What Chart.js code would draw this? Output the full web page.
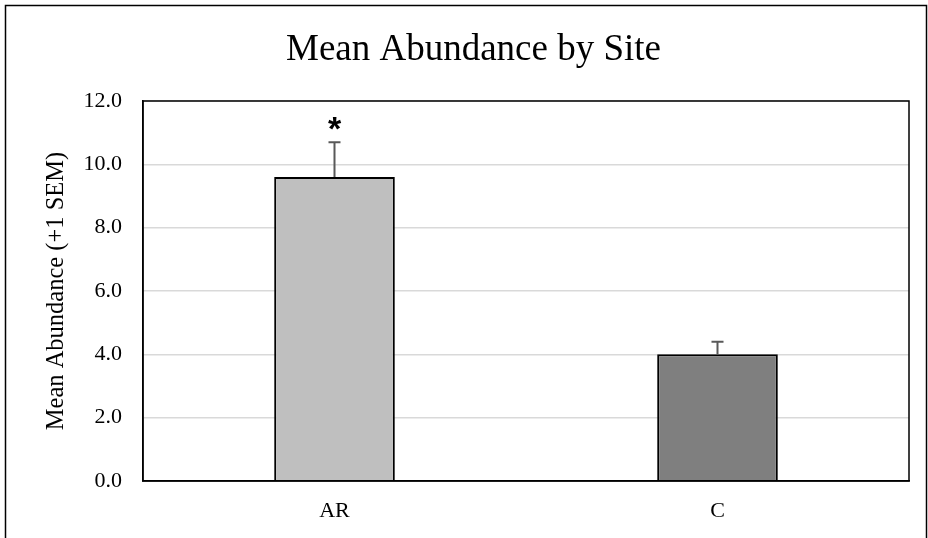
<!DOCTYPE html>
<html>
<head>
<meta charset="utf-8">
<script src="https://cdn.jsdelivr.net/npm/chart.js@4.4.0/dist/chart.umd.min.js"></script>
<style>
  html, body { margin: 0; padding: 0; background: #fff; }
  #wrap { width: 928px; height: 538px; }
</style>
</head>
<body>
<div id="wrap"><canvas id="chart" width="928" height="538"></canvas></div>
<script>
// chart data
const sites = ['AR', 'C']
const meanAbundance = [9.6, 4.0]
const sem = [1.1, 0.4]
const barColors = ['#bfbfbf', '#7f7f7f']
const significant = [true, false]
const yTicks = [0, 2, 4, 6, 8, 10, 12]

const serif = "'Liberation Serif', 'Times New Roman', serif"

// outer frame + plot box
const frame = {
  id: 'frame',
  beforeDraw(chart) {
    const ctx = chart.ctx
    ctx.save()
    ctx.strokeStyle = '#000'
    ctx.lineWidth = 1.5
    ctx.strokeRect(5.5, 5.5, 921, 560)
    ctx.restore()
  },
  afterDraw(chart) {
    const {ctx, chartArea: a} = chart
    ctx.save()
    ctx.strokeStyle = '#000'
    ctx.lineWidth = 1.5
    ctx.strokeRect(a.left, a.top, a.right - a.left, a.bottom - a.top)
    ctx.restore()
  }
}

// error bars (+1 SEM) and significance marks
const errorBars = {
  id: 'errorBars',
  afterDatasetsDraw(chart) {
    const ctx = chart.ctx
    const y = chart.scales.y
    const meta = chart.getDatasetMeta(0)
    ctx.save()
    meta.data.forEach((bar, i) => {
      const top = y.getPixelForValue(meanAbundance[i] + sem[i])
      const base = y.getPixelForValue(meanAbundance[i])
      ctx.strokeStyle = '#595959'
      ctx.lineWidth = 2
      ctx.beginPath()
      ctx.moveTo(bar.x, base)
      ctx.lineTo(bar.x, top)
      ctx.moveTo(bar.x - 6, top)
      ctx.lineTo(bar.x + 6, top)
      ctx.stroke()
      if (significant[i]) {
        ctx.fillStyle = '#000'
        ctx.font = "bold 34px 'Liberation Sans', Arial, sans-serif"
        ctx.textAlign = 'center'
        ctx.textBaseline = 'middle'
        ctx.fillText('*', bar.x, top - 12)
      }
    })
    ctx.restore()
  }
}

new Chart(document.getElementById('chart'), {
  type: 'bar',
  data: {
    labels: sites,
    datasets: [{
      data: meanAbundance,
      backgroundColor: barColors,
      borderColor: '#000',
      borderWidth: 2,
      categoryPercentage: 1,
      barPercentage: 0.315
    }]
  },
  options: {
    responsive: false,
    animation: false,
    layout: { padding: { left: 38, right: 19, top: 5, bottom: 0 } },
    plugins: {
      legend: { display: false },
      tooltip: { enabled: false },
      title: {
        display: true,
        text: 'Mean Abundance by Site',
        color: '#000',
        font: { family: serif, size: 37, weight: 'normal' },
        padding: { top: 23, bottom: 28.6 }
      }
    },
    scales: {
      x: {
        grid: { display: false, drawTicks: false },
        border: { color: '#000', width: 1.5 },
        ticks: { color: '#000', padding: 17, font: { family: serif, size: 22 } },
        afterFit(s) { s.height = 57 }
      },
      y: {
        min: 0,
        max: 12,
        afterBuildTicks(s) { s.ticks = yTicks.map(v => ({value: v})) },
        grid: { color: '#d9d9d9', lineWidth: 1.5, drawTicks: false },
        border: { color: '#000', width: 1.5 },
        ticks: {
          color: '#000',
          padding: 21,
          font: { family: serif, size: 22 },
          callback: v => v.toFixed(1)
        },
        title: {
          display: true,
          text: 'Mean Abundance (+1 SEM)',
          color: '#000',
          font: { family: serif, size: 24.5 }
        },
        afterFit(s) { s.width = 143 - 38 }
      }
    }
  },
  plugins: [frame, errorBars]
})
</script>
</body>
</html>
